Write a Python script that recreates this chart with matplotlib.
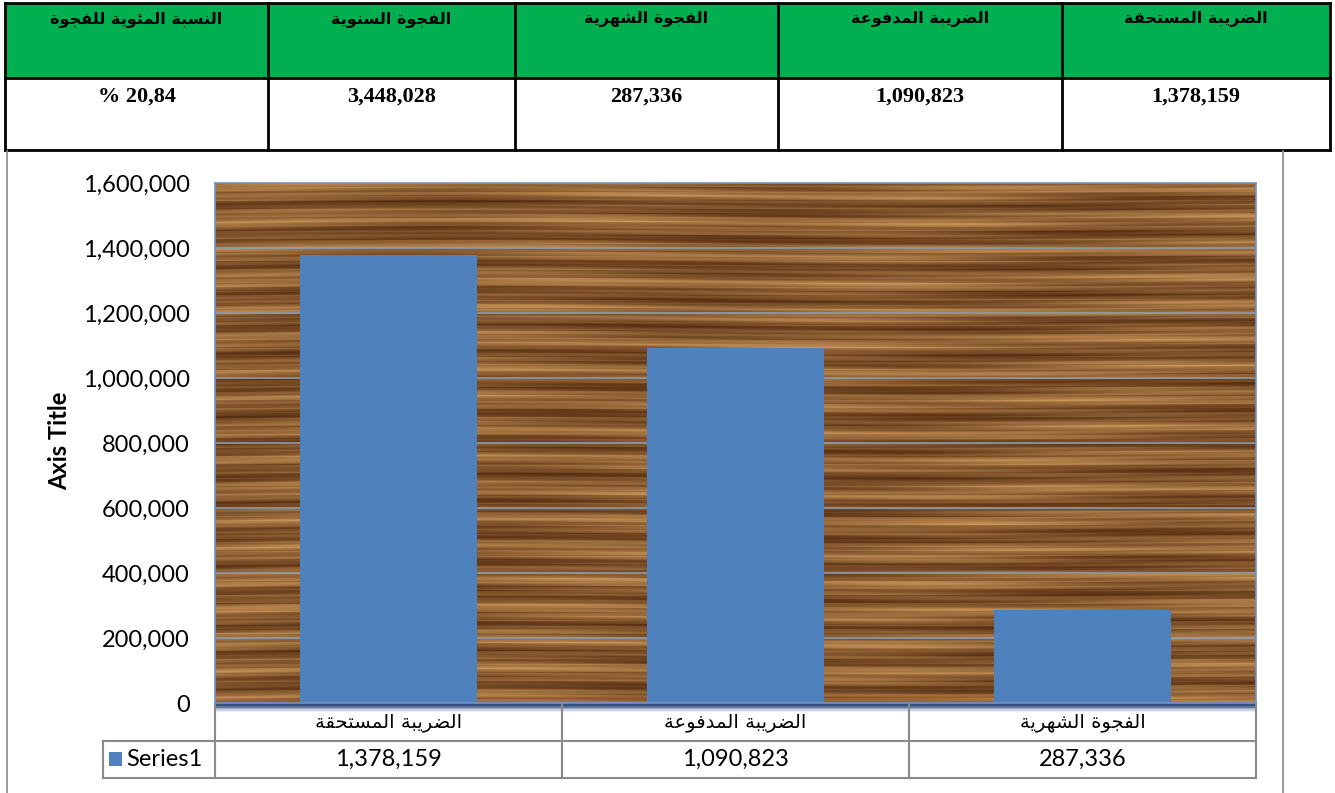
import matplotlib
matplotlib.use("Agg")
import matplotlib.pyplot as plt
import numpy as np
from matplotlib.ticker import FuncFormatter

# %% Data
categories = ["الضريبة المستحقة", "الضريبة المدفوعة", "الفجوة الشهرية"]
values = [1378159, 1090823, 287336]
series_name = "Series1"

table_headers = ["النسبة المئوية للفجوة", "الفجوة السنوية", "الفجوة الشهرية",
                 "الضريبة المدفوعة", "الضريبة المستحقة"]
table_values = ["% 20,84", "3,448,028", "287,336", "1,090,823", "1,378,159"]
y_ticks = [0, 200000, 400000, 600000, 800000, 1000000, 1200000, 1400000, 1600000]

# %% Arabic shaping (matplotlib has no bidi / joining)
FORMS = {
    'ا': (0xFE8D, 0xFE8E, None, None), 'ب': (0xFE8F, 0xFE90, 0xFE91, 0xFE92),
    'ة': (0xFE93, 0xFE94, None, None), 'ت': (0xFE95, 0xFE96, 0xFE97, 0xFE98),
    'ج': (0xFE9D, 0xFE9E, 0xFE9F, 0xFEA0), 'ح': (0xFEA1, 0xFEA2, 0xFEA3, 0xFEA4),
    'د': (0xFEA9, 0xFEAA, None, None), 'ر': (0xFEAD, 0xFEAE, None, None),
    'س': (0xFEB1, 0xFEB2, 0xFEB3, 0xFEB4), 'ش': (0xFEB5, 0xFEB6, 0xFEB7, 0xFEB8),
    'ض': (0xFEBD, 0xFEBE, 0xFEBF, 0xFEC0), 'ع': (0xFEC9, 0xFECA, 0xFECB, 0xFECC),
    'ف': (0xFED1, 0xFED2, 0xFED3, 0xFED4), 'ق': (0xFED5, 0xFED6, 0xFED7, 0xFED8),
    'ل': (0xFEDD, 0xFEDE, 0xFEDF, 0xFEE0), 'م': (0xFEE1, 0xFEE2, 0xFEE3, 0xFEE4),
    'ن': (0xFEE5, 0xFEE6, 0xFEE7, 0xFEE8), 'ه': (0xFEE9, 0xFEEA, 0xFEEB, 0xFEEC),
    'و': (0xFEED, 0xFEEE, None, None), 'ي': (0xFEF1, 0xFEF2, 0xFEF3, 0xFEF4),
    'ئ': (0xFE89, 0xFE8A, 0xFE8B, 0xFE8C),
}


def ar(text):
    out = []
    for i, c in enumerate(text):
        if c not in FORMS:
            out.append(c)
            continue
        iso, fin, ini, med = FORMS[c]
        prev = text[i-1] if i > 0 else None
        nxt = text[i+1] if i + 1 < len(text) else None
        jp = prev in FORMS and FORMS[prev][2] is not None
        jn = nxt in FORMS and ini is not None
        if jp and jn:
            code = med
        elif jp:
            code = fin
        elif jn:
            code = ini
        else:
            code = iso
        out.append(chr(code))
    return "".join(reversed(out))


W, H = 1335, 793
fig = plt.figure(figsize=(W/100, H/100), dpi=100)
fig.patch.set_facecolor("white")

# background axes in pixel coordinates
bg = fig.add_axes([0, 0, 1, 1])
bg.set_xlim(0, W)
bg.set_ylim(H, 0)
bg.axis("off")

# %% Top table
col_edges = [5, 268, 515, 778, 1062, 1330]
top, mid, bot = 3, 78, 150
bg.fill_between([col_edges[0], col_edges[-1]], top, mid, color="#00B050", lw=0)
for x in col_edges:
    bg.plot([x, x], [top, bot], color="black", lw=2)
for y in (top, mid, bot):
    bg.plot([col_edges[0], col_edges[-1]], [y, y], color="black", lw=2)
for i in range(5):
    xc = (col_edges[i] + col_edges[i+1]) / 2
    bg.text(xc, 19, ar(table_headers[i]), ha="center", va="center",
            fontsize=11.5, fontweight="bold", family="DejaVu Sans")
    bg.text(xc, 97, table_values[i], ha="center", va="center",
            fontsize=16, fontweight="bold", family="Liberation Serif")

# chart outer border
bg.plot([7, 7], [151, H], color="#888888", lw=1.2)
bg.plot([1283, 1283], [151, H], color="#888888", lw=1.2)

# %% Chart axes
px0, px1, py0, py1 = 215, 1256, 183, 703
ax = fig.add_axes([px0/W, (H-py1)/H, (px1-px0)/W, (py1-py0)/H])
ax.set_xlim(-0.5, 2.5)
ax.set_ylim(0, 1600000)

# wood-like backdrop (decorative texture only)
yy, xx = np.mgrid[0:1:400j, 0:1:800j]
v = (0.5 + 0.20*np.sin(2*np.pi*yy*17.3 + 0.9*np.sin(2*np.pi*xx*1.3))
     + 0.13*np.sin(2*np.pi*yy*41.7 + 2.3*np.sin(2*np.pi*xx*0.7))
     + 0.10*np.sin(2*np.pi*yy*97.1 + 3*np.sin(xx*7))
     + 0.07*np.sin(2*np.pi*yy*163.9 + 5*xx)
     + 0.05*np.sin(2*np.pi*xx*3.1 + yy*9))
v = np.clip(v, 0, 1) ** 1.2
dark = np.array([0.33, 0.17, 0.06])
light = np.array([0.80, 0.60, 0.36])
tex = dark + (light - dark) * v[..., None]
ax.imshow(tex, extent=(-0.5, 2.5, 0, 1600000), aspect="auto", zorder=0)

for t in y_ticks[1:-1]:
    ax.axhline(t, color="#8c9cb0", lw=1.2, zorder=1)

x = np.arange(len(categories))
ax.bar(x, values, width=0.51, color="#4F81BD", zorder=2)

ax.set_yticks(y_ticks)
ax.yaxis.set_major_formatter(FuncFormatter(lambda v, p: f"{int(v):,}"))
ax.tick_params(axis="y", length=0, pad=18, labelsize=17)
for lab in ax.get_yticklabels():
    lab.set_family(["Lato", "DejaVu Sans"])
ax.set_xticks([])
for s in ax.spines.values():
    s.set_color("#6f93c6")
    s.set_linewidth(1.2)

bg.text(60, 441, "Axis Title", rotation=90, ha="center", va="center",
        fontsize=17, fontweight="bold", family="Lato")

# shadow under plot area
for k, a in enumerate([0.9, 0.6, 0.35, 0.18, 0.08]):
    bg.plot([px0, px1], [py1 + 1 + k*1.6, py1 + 1 + k*1.6], color="#1f3f73",
            lw=2, alpha=a, solid_capstyle="butt")

# %% Data table under chart
r0, r1, r2 = 703, 741, 778
gray = "#8a8a8a"
bg.plot([px0, px1], [r0, r0], color=gray, lw=1.2, zorder=0)
bg.plot([103, px1], [r1, r1], color=gray, lw=1.5)
bg.plot([103, px1], [r2, r2], color=gray, lw=1.5)
bg.plot([103, 103], [r1, r2], color=gray, lw=1.5)
cell_w = (px1 - px0) / len(categories)
for i in range(len(categories) + 1):
    xe = px0 + i*cell_w
    bg.plot([xe, xe], [r0, r2], color=gray, lw=1.5)
for i, (c, val) in enumerate(zip(categories, values)):
    xc = px0 + (i + 0.5)*cell_w
    bg.text(xc, (r0 + r1)/2 + 1, ar(c), ha="center", va="center", fontsize=14,
            family="DejaVu Sans")
    bg.text(xc, (r1 + r2)/2, f"{val:,}", ha="center", va="center", fontsize=17,
            family=["Lato", "DejaVu Sans"])
bg.fill_between([109, 122], 752, 766, color="#4F81BD", lw=0)
bg.text(126, (r1 + r2)/2, series_name, ha="left", va="center", fontsize=17,
        family="Lato")

fig.savefig("out.png", dpi=100)
